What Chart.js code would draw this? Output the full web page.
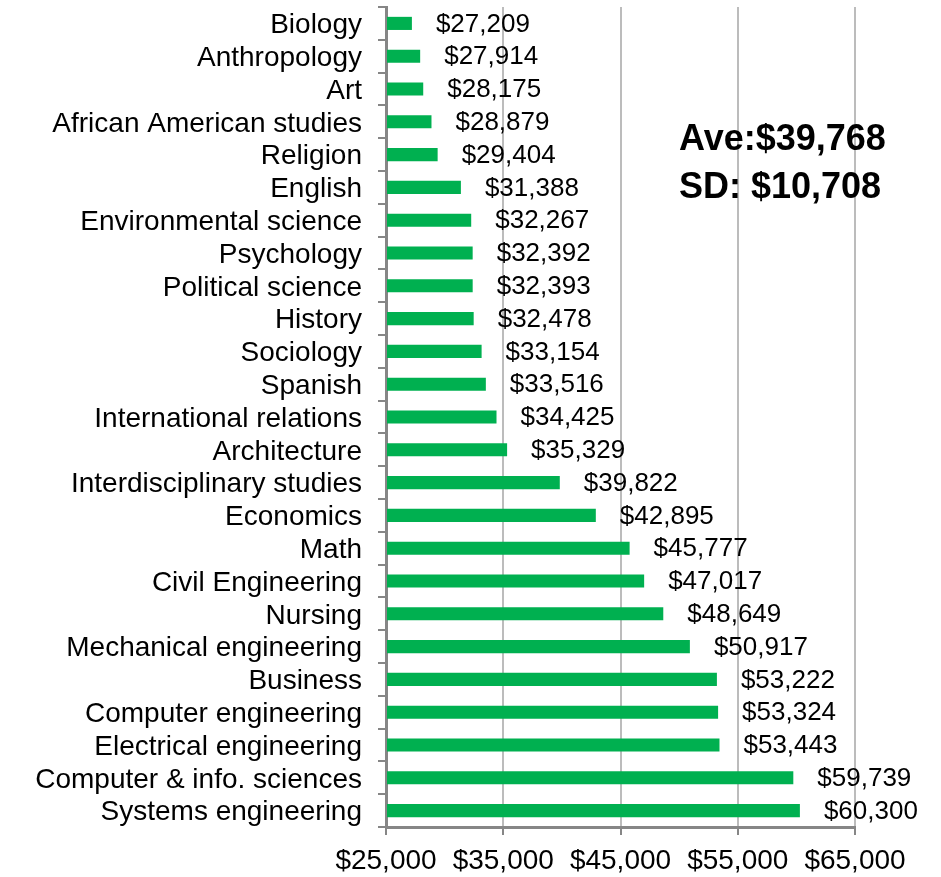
<!DOCTYPE html>
<html>
<head>
<meta charset="utf-8">
<title>Starting salary by major</title>
<script src="https://cdn.jsdelivr.net/npm/chart.js@4/dist/chart.umd.min.js"></script>
<style>
  html, body { margin: 0; padding: 0; background: #fff; }
  #wrap { width: 941px; height: 877px; position: relative; }
</style>
</head>
<body>
<div id="wrap"><canvas id="salaryChart"></canvas></div>
<script>
// Majors, top of the chart first
const majors = [
    'Biology', 'Anthropology', 'Art', 'African American studies', 'Religion',
    'English', 'Environmental science', 'Psychology', 'Political science', 'History',
    'Sociology', 'Spanish', 'International relations', 'Architecture',
    'Interdisciplinary studies', 'Economics', 'Math', 'Civil Engineering', 'Nursing',
    'Mechanical engineering', 'Business', 'Computer engineering',
    'Electrical engineering', 'Computer & info. sciences', 'Systems engineering'
];

// Starting salary for each major (dollars)
const salaries = [
    27209, 27914, 28175, 28879, 29404,
    31388, 32267, 32392, 32393, 32478,
    33154, 33516, 34425, 35329,
    39822, 42895, 45777, 47017, 48649,
    50917, 53222, 53324,
    53443, 59739, 60300
];

// x axis ticks
const tickValues = [25000, 35000, 45000, 55000, 65000];

// summary text shown top right
const summaryLines = ['Ave:$39,768', 'SD: $10,708'];

const FONT = '"Liberation Sans", Arial, sans-serif';
const money = v => '$' + Number(v).toLocaleString('en-US');

// value labels just past the end of each bar
const barLabels = {
    id: 'barLabels',
    afterDatasetsDraw(chart) {
        const ctx = chart.ctx;
        const meta = chart.getDatasetMeta(0);
        ctx.save();
        ctx.font = '26px ' + FONT;
        ctx.fillStyle = '#000';
        ctx.textAlign = 'left';
        ctx.textBaseline = 'middle';
        meta.data.forEach((bar, i) => {
            ctx.fillText(money(salaries[i]), bar.x + 24, bar.y + 1);
        });
        ctx.restore();
    }
};

// Ave / SD box
const summaryText = {
    id: 'summaryText',
    afterDraw(chart) {
        const ctx = chart.ctx;
        const area = chart.chartArea;
        ctx.save();
        ctx.font = 'bold 36px ' + FONT;
        ctx.fillStyle = '#000';
        ctx.textAlign = 'left';
        ctx.textBaseline = 'alphabetic';
        summaryLines.forEach((line, i) => {
            ctx.fillText(line, area.left + 293, area.top + 143 + i * 48);
        });
        ctx.restore();
    }
};

const ctx = document.getElementById('salaryChart').getContext('2d');

new Chart(ctx, {
    type: 'bar',
    data: {
        labels: majors,
        datasets: [{
            data: salaries,
            backgroundColor: '#00b050',
            borderWidth: 0,
            barPercentage: 0.4,
            categoryPercentage: 1.0,
            base: tickValues[0]
        }]
    },
    options: {
        indexAxis: 'y',
        responsive: true,
        maintainAspectRatio: false,
        animation: false,
        layout: {
            padding: { top: 7, right: 86, bottom: 0, left: 0 }
        },
        plugins: {
            legend: { display: false },
            tooltip: { enabled: false }
        },
        scales: {
            x: {
                min: tickValues[0],
                max: tickValues[tickValues.length - 1],
                afterBuildTicks: scale => {
                    scale.ticks = tickValues.map(v => ({ value: v }));
                },
                afterFit: scale => { scale.height = 50; },
                border: { display: true, color: '#868686', width: 3 },
                grid: {
                    color: '#bcbcbc',
                    lineWidth: 2,
                    tickColor: '#868686',
                    tickLength: 8
                },
                ticks: {
                    callback: v => money(v),
                    color: '#000',
                    padding: 9,
                    maxRotation: 0,
                    font: { family: FONT, size: 28 }
                }
            },
            y: {
                afterFit: scale => {
                    scale.width = 386;
                    scale.paddingTop = 0;
                    scale.paddingBottom = 0;
                },
                border: { display: true, color: '#868686', width: 3 },
                grid: {
                    offset: true,
                    drawOnChartArea: false,
                    color: '#868686',
                    lineWidth: 2,
                    tickLength: 8
                },
                ticks: {
                    color: '#000',
                    padding: 16,
                    labelOffset: 2,
                    autoSkip: false,
                    font: { family: FONT, size: 28 }
                }
            }
        }
    },
    plugins: [barLabels, summaryText]
});
</script>
</body>
</html>
